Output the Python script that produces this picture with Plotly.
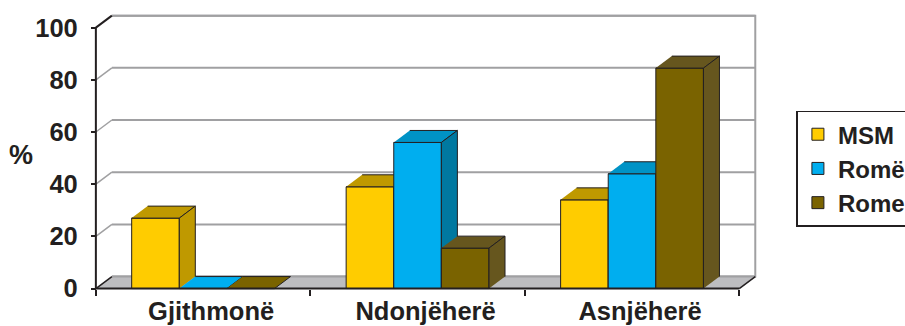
import plotly.graph_objects as go

# ---- data ----
categories = ["Gjithmonë", "Ndonjëherë", "Asnjëherë"]
series_names = ["MSM", "Romë", "Rome"]
msm = [27, 39, 34]
rome_e = [0, 56, 44]
rome = [0, 15.5, 84.5]
y_ticks = [0, 20, 40, 60, 80, 100]

series_values = [msm, rome_e, rome]
front_colors = ["#FFCC00", "#00AEEF", "#7A6300"]
top_colors = ["#BF9900", "#0093C6", "#66561E"]
side_colors = ["#BF9900", "#0078A0", "#66561E"]
DARK = "#231F20"
GRID = "#A0A0A2"
FLOOR = "#BDBDC0"

# ---- geometry (pixel mapping) ----
W, H_FIG = 905, 326
PX_PER_CAT = 214.3
PX_PER_UNIT = 2.61
X0_PX = 96.0   # px of x = -0.5
Y0_PX = 289.0  # px of y = 0
XR = [-0.56, 2.62]
YR = [-4, 106]
L = X0_PX - (-0.5 - XR[0]) * PX_PER_CAT
PW = (XR[1] - XR[0]) * PX_PER_CAT
R = W - L - PW
T = Y0_PX - YR[1] * PX_PER_UNIT
PH = (YR[1] - YR[0]) * PX_PER_UNIT
B = H_FIG - T - PH

DX = 16 / PX_PER_CAT      # depth offset in x units
DY = 12 / PX_PER_UNIT     # depth offset in y units
BW = 0.222                # bar width
GROUP = BW * 3
xs = list(range(len(categories)))
XL, XRt = -0.5, len(categories) - 0.5
YMAX = y_ticks[-1]

fig = go.Figure()

def poly(px, py, fill, line_color=DARK, lw=1, z=0):
    fig.add_trace(go.Scatter(x=px, y=py, mode="lines", fill="toself", fillcolor=fill,
                             line=dict(color=line_color, width=lw), hoverinfo="skip",
                             showlegend=False, zorder=z))

def seg(px, py, color, lw, z=-5):
    fig.add_trace(go.Scatter(x=px, y=py, mode="lines", line=dict(color=color, width=lw),
                             hoverinfo="skip", showlegend=False, zorder=z))

# back wall
poly([XL + DX, XRt + DX, XRt + DX, XL + DX], [DY, DY, YMAX + DY, YMAX + DY], "white", GRID, 2, -10)
# floor
poly([XL, XRt, XRt + DX, XL + DX], [0, 0, DY, DY], FLOOR, FLOOR, 0.5, -9)
# gridlines on back wall and side diagonals
for v in y_ticks:
    seg([XL + DX, XRt + DX], [v + DY, v + DY], GRID, 2, -8)
    c = DARK if v in (0, YMAX) else GRID
    seg([XL, XL + DX], [v, v + DY], c, 2 if v == YMAX else 1.5, -7)
# floor right edge
seg([XRt, XRt + DX], [0, DY], DARK, 1.5, -7)

# bars
for i, (name, vals) in enumerate(zip(series_names, series_values)):
    off = -GROUP / 2 + i * BW
    fig.add_trace(go.Bar(x=xs, y=vals, width=BW, offset=off, name=name, legendgroup=f"g{i}",
                         marker=dict(color=front_colors[i], line=dict(color=DARK, width=1)),
                         hoverinfo="skip", zorder=2 * i))
    for c, h in zip(xs, vals):
        x0 = c + off
        x1 = x0 + BW
        tc = top_colors[i] if h > 0 else front_colors[i]
        poly([x0, x1, x1 + DX, x0 + DX], [h, h, h + DY, h + DY], tc, DARK, 1, 2 * i + 1)
        if h > 0:
            poly([x1, x1, x1 + DX, x1 + DX], [0, h, h + DY, DY], side_colors[i], DARK, 1, 2 * i + 1)

# front axis lines
seg([XL, XL], [0, YMAX], DARK, 2, 10)
seg([XL, XRt], [0, 0], DARK, 2, 10)

FONT = dict(family="Liberation Sans, Arial, sans-serif", color=DARK, size=25.5, weight="bold")

fig.update_layout(
    width=W, height=H_FIG,
    margin=dict(l=L, r=R, t=T, b=B, pad=0, autoexpand=False),
    paper_bgcolor="white", plot_bgcolor="white",
    barmode="overlay",
    font=FONT,
    showlegend=True,
    legend=dict(x=(796 - L) / PW, y=(H_FIG - B - 111) / PH, xanchor="left", yanchor="top",
                bgcolor="white", bordercolor=DARK, borderwidth=1.5, tracegroupgap=3,
                font=dict(FONT, size=24), traceorder="normal"),
    xaxis=dict(range=XR, showgrid=False, zeroline=False, showline=False,
               anchor="free", position=(H_FIG - B - Y0_PX) / PH,
               tickmode="array", tickvals=[c + DX / 2 for c in xs], ticktext=categories,
               ticks="", ticklabelstandoff=5, tickfont=FONT,
               minor=dict(tickmode="array", tickvals=[XL + k for k in range(len(categories) + 1)],
                          ticks="outside", ticklen=6, tickwidth=1.5, tickcolor=DARK, showgrid=False)),
    yaxis=dict(range=YR, showgrid=False, zeroline=False, showline=False,
               anchor="free", position=(X0_PX - L) / PW,
               tickmode="array", tickvals=y_ticks, ticks="outside", ticklen=5, tickwidth=2,
               tickcolor=DARK, ticklabelstandoff=8, tickfont=FONT),
    annotations=[dict(text="%", xref="paper", yref="y", x=(21.5 - L) / PW, y=(Y0_PX - 155) / PX_PER_UNIT,
                      showarrow=False, xanchor="center", yanchor="middle", font=dict(FONT, size=27))],
)

fig.write_html("out.html")
